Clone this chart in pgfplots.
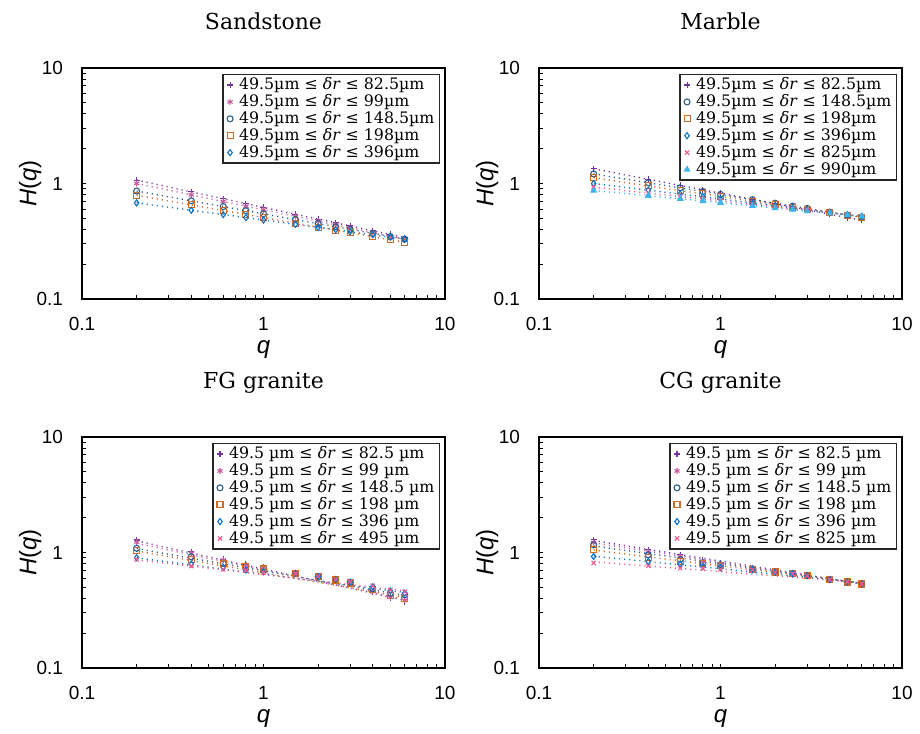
\documentclass[border=0pt]{standalone}
\usepackage{fontspec}
\setmainfont{Liberation Serif}
\setsansfont{Liberation Sans}
\newfontfamily\dvs{DejaVu Serif}
\usepackage{pgfplots}
\pgfplotsset{compat=1.18}

\definecolor{cP}{HTML}{7030A0}
\definecolor{cA}{HTML}{C8609F}
\definecolor{cO}{HTML}{2F5D8A}
\definecolor{cS}{HTML}{D06A27}
\definecolor{cD}{HTML}{0B74C4}
\definecolor{cX}{HTML}{EE5A8E}
\definecolor{cT}{HTML}{3DB4EC}

\newcommand{\dr}{\textit{δr}}

\pgfplotsset{
  every axis/.append style={
    scale only axis, width=181.5pt, height=115.5pt,
    anchor=south west,
    xmin=0.1, xmax=10, ymin=0.1, ymax=10,
    xtick={0.1,1,10}, xticklabels={0.1,1,10},
    ytick={0.1,1,10}, yticklabels={0.1,1,10},
    minor xtick={0.2,0.3,0.4,0.5,0.6,0.7,0.8,0.9,2,3,4,5,6,7,8,9},
    minor ytick={0.2,0.3,0.4,0.5,0.6,0.7,0.8,0.9,2,3,4,5,6,7,8,9},
    tick align=inside, xtick pos=bottom, ytick pos=left,
    major tick length=2.2pt, minor tick length=2.2pt,
    tick style={black, line width=0.5pt},
    axis line style={black, line width=0.7pt},
    ticklabel style={font=\fontsize{9.5}{10}\sffamily},
    xticklabel style={anchor=base, yshift=-15.5pt},
    yticklabel style={anchor=east, xshift=-6pt},
    xlabel={\textit{q}}, ylabel={\textit{H}(\textit{q})},
    label style={font=\fontsize{12}{12}\sffamily},
    xlabel style={at={(axis description cs:0.5,-0.218)}, anchor=center},
    ylabel style={at={(axis description cs:-0.143,0.5)}, anchor=center},
    title style={at={(0.5,1)}, anchor=base, font=\fontsize{11}{11}\dvs},
    legend style={at={(1,1)}, anchor=north east, xshift=-2.5pt, yshift=-3pt,
      draw=black!85, line width=0.6pt, fill=white, inner xsep=2pt, inner ysep=1pt,
      column sep=2.5pt,
      font=\fontsize{7.9}{8}\dvs,
      nodes={inner xsep=0.5pt, inner ysep=0.45pt}},
    legend cell align=left,
  },
  every axis plot/.append style={mark size=1.5pt, line width=0.55pt},
}

\begin{document}
\begin{tikzpicture}
\path (0,0) rectangle (460pt,-364.5pt);

% ---------------- Sandstone ----------------
\begin{loglogaxis}[at={(41pt,-149.5pt)}, title={Sandstone}, title style={yshift=13pt}]
\addplot[forget plot, dotted, line width=0.7pt, color=cP] coordinates {(0.2,1.070) (6,0.340)};
\addplot[forget plot, dotted, line width=0.7pt, color=cA] coordinates {(0.2,1.000) (6,0.330)};
\addplot[forget plot, dotted, line width=0.7pt, color=cO] coordinates {(0.2,0.860) (6,0.330)};
\addplot[forget plot, dotted, line width=0.7pt, color=cS] coordinates {(0.2,0.790) (6,0.310)};
\addplot[forget plot, dotted, line width=0.7pt, color=cD] coordinates {(0.2,0.680) (6,0.330)};
\addplot[only marks, mark=+, color=cP] coordinates {(0.2,1.070) (0.4,0.847) (0.6,0.739) (0.8,0.671) (1,0.622) (1.5,0.543) (2,0.492) (2.5,0.457) (3,0.430) (4,0.390) (5,0.362) (6,0.340)};
\addplot[only marks, mark=asterisk, color=cA] coordinates {(0.2,1.000) (0.4,0.798) (0.6,0.699) (0.8,0.636) (1,0.592) (1.5,0.518) (2,0.472) (2.5,0.439) (3,0.414) (4,0.377) (5,0.350) (6,0.330)};
\addplot[only marks, mark=o, color=cO] coordinates {(0.2,0.860) (0.4,0.708) (0.6,0.631) (0.8,0.582) (1,0.547) (1.5,0.488) (2,0.450) (2.5,0.422) (3,0.401) (4,0.370) (5,0.347) (6,0.330)};
\addplot[only marks, mark=square, color=cS] coordinates {(0.2,0.790) (0.4,0.653) (0.6,0.584) (0.8,0.540) (1,0.508) (1.5,0.454) (2,0.419) (2.5,0.394) (3,0.375) (4,0.347) (5,0.326) (6,0.310)};
\addplot[only marks, mark=diamond, color=cD] coordinates {(0.2,0.680) (0.4,0.587) (0.6,0.538) (0.8,0.507) (1,0.483) (1.5,0.443) (2,0.417) (2.5,0.398) (3,0.382) (4,0.360) (5,0.343) (6,0.330)};
\legend{49.5µm ≤ \dr{} ≤ 82.5µm, 49.5µm ≤ \dr{} ≤ 99µm, 49.5µm ≤ \dr{} ≤ 148.5µm, 49.5µm ≤ \dr{} ≤ 198µm, 49.5µm ≤ \dr{} ≤ 396µm}
\end{loglogaxis}

% ---------------- Marble ----------------
\begin{loglogaxis}[at={(269.5pt,-149.5pt)}, title={Marble}, title style={yshift=13pt}]
\addplot[forget plot, dotted, line width=0.7pt, color=cP] coordinates {(0.2,1.340) (6,0.480)};
\addplot[forget plot, dotted, line width=0.7pt, color=cO] coordinates {(0.2,1.210) (6,0.510)};
\addplot[forget plot, dotted, line width=0.7pt, color=cS] coordinates {(0.2,1.120) (6,0.510)};
\addplot[forget plot, dotted, line width=0.7pt, color=cD] coordinates {(0.2,1.000) (6,0.520)};
\addplot[forget plot, dotted, line width=0.7pt, color=cX] coordinates {(0.2,0.930) (6,0.520)};
\addplot[forget plot, dotted, line width=0.7pt, color=cT] coordinates {(0.2,0.870) (6,0.520)};
\addplot[only marks, mark=+, color=cP] coordinates {(0.2,1.340) (0.4,1.087) (0.6,0.961) (0.8,0.882) (1,0.824) (1.5,0.729) (2,0.668) (2.5,0.625) (3,0.591) (4,0.542) (5,0.507) (6,0.480)};
\addplot[only marks, mark=o, color=cO] coordinates {(0.2,1.210) (0.4,1.016) (0.6,0.917) (0.8,0.852) (1,0.805) (1.5,0.726) (2,0.675) (2.5,0.637) (3,0.608) (4,0.565) (5,0.534) (6,0.510)};
\addplot[only marks, mark=square, color=cS] coordinates {(0.2,1.120) (0.4,0.954) (0.6,0.869) (0.8,0.813) (1,0.772) (1.5,0.703) (2,0.658) (2.5,0.625) (3,0.599) (4,0.560) (5,0.532) (6,0.510)};
\addplot[only marks, mark=diamond, color=cD] coordinates {(0.2,1.000) (0.4,0.875) (0.6,0.810) (0.8,0.766) (1,0.734) (1.5,0.679) (2,0.642) (2.5,0.615) (3,0.594) (4,0.562) (5,0.538) (6,0.520)};
\addplot[only marks, mark=x, color=cX] coordinates {(0.2,0.930) (0.4,0.826) (0.6,0.771) (0.8,0.734) (1,0.706) (1.5,0.659) (2,0.627) (2.5,0.604) (3,0.585) (4,0.557) (5,0.536) (6,0.520)};
\addplot[only marks, mark=triangle*, color=cT] coordinates {(0.2,0.870) (0.4,0.783) (0.6,0.737) (0.8,0.706) (1,0.682) (1.5,0.642) (2,0.614) (2.5,0.594) (3,0.577) (4,0.553) (5,0.535) (6,0.520)};
\legend{49.5µm ≤ \dr{} ≤ 82.5µm, 49.5µm ≤ \dr{} ≤ 148.5µm, 49.5µm ≤ \dr{} ≤ 198µm, 49.5µm ≤ \dr{} ≤ 396µm, 49.5µm ≤ \dr{} ≤ 825µm, 49.5µm ≤ \dr{} ≤ 990µm}
\end{loglogaxis}

% ---------------- FG granite ----------------
\begin{loglogaxis}[at={(41pt,-334pt)}, title={FG granite}, title style={yshift=18.5pt}]
\addplot[forget plot, dotted, line width=0.7pt, color=cP] coordinates {(0.2,1.260) (6,0.385)};
\addplot[forget plot, dotted, line width=0.7pt, color=cA] coordinates {(0.2,1.200) (6,0.395)};
\addplot[forget plot, dotted, line width=0.7pt, color=cO] coordinates {(0.2,1.080) (6,0.425)};
\addplot[forget plot, dotted, line width=0.7pt, color=cS] coordinates {(0.2,1.030) (6,0.410)};
\addplot[forget plot, dotted, line width=0.7pt, color=cD] coordinates {(0.2,0.900) (6,0.450)};
\addplot[forget plot, dotted, line width=0.7pt, color=cX] coordinates {(0.2,0.865) (6,0.465)};
\addplot[only marks, mark=+, color=cP] coordinates {(0.2,1.282) (0.4,1.016) (0.6,0.873) (0.8,0.790) (1,0.755) (1.5,0.665) (2,0.615) (2.5,0.574) (3,0.535) (4,0.459) (5,0.402) (6,0.376)};
\addplot[only marks, mark=asterisk, color=cA] coordinates {(0.2,1.230) (0.4,0.984) (0.6,0.860) (0.8,0.780) (1,0.745) (1.5,0.663) (2,0.616) (2.5,0.576) (3,0.540) (4,0.465) (5,0.410) (6,0.385)};
\addplot[only marks, mark=o, color=cO] coordinates {(0.2,1.087) (0.4,0.920) (0.6,0.807) (0.8,0.765) (1,0.730) (1.5,0.661) (2,0.618) (2.5,0.580) (3,0.549) (4,0.485) (5,0.444) (6,0.430)};
\addplot[only marks, mark=square, color=cS] coordinates {(0.2,1.040) (0.4,0.873) (0.6,0.806) (0.8,0.755) (1,0.720) (1.5,0.660) (2,0.618) (2.5,0.578) (3,0.545) (4,0.475) (5,0.425) (6,0.402)};
\addplot[only marks, mark=diamond, color=cD] coordinates {(0.2,0.900) (0.4,0.796) (0.6,0.740) (0.8,0.706) (1,0.683) (1.5,0.658) (2,0.620) (2.5,0.584) (3,0.555) (4,0.505) (5,0.465) (6,0.445)};
\addplot[only marks, mark=x, color=cX] coordinates {(0.2,0.870) (0.4,0.764) (0.6,0.716) (0.8,0.697) (1,0.670) (1.5,0.657) (2,0.622) (2.5,0.588) (3,0.560) (4,0.514) (5,0.474) (6,0.459)};
\legend{49.5 µm ≤ \dr{} ≤ 82.5 µm, 49.5 µm ≤ \dr{} ≤ 99 µm, 49.5 µm ≤ \dr{} ≤ 148.5 µm, 49.5 µm ≤ \dr{} ≤ 198 µm, 49.5 µm ≤ \dr{} ≤ 396 µm, 49.5 µm ≤ \dr{} ≤ 495 µm}
\end{loglogaxis}

% ---------------- CG granite ----------------
\begin{loglogaxis}[at={(269.5pt,-334pt)}, title={CG granite}, title style={yshift=18.5pt}]
\addplot[forget plot, dotted, line width=0.7pt, color=cP] coordinates {(0.2,1.270) (6,0.535)};
\addplot[forget plot, dotted, line width=0.7pt, color=cA] coordinates {(0.2,1.210) (6,0.537)};
\addplot[forget plot, dotted, line width=0.7pt, color=cO] coordinates {(0.2,1.140) (6,0.540)};
\addplot[forget plot, dotted, line width=0.7pt, color=cS] coordinates {(0.2,1.050) (6,0.542)};
\addplot[forget plot, dotted, line width=0.7pt, color=cD] coordinates {(0.2,0.930) (6,0.546)};
\addplot[forget plot, dotted, line width=0.7pt, color=cX] coordinates {(0.2,0.830) (6,0.550)};
\addplot[only marks, mark=+, color=cP] coordinates {(0.2,1.286) (0.4,1.055) (0.6,0.955) (0.8,0.853) (1,0.810) (1.5,0.735) (2,0.685) (2.5,0.660) (3,0.632) (4,0.582) (5,0.553) (6,0.530)};
\addplot[only marks, mark=asterisk, color=cA] coordinates {(0.2,1.220) (0.4,1.010) (0.6,0.915) (0.8,0.835) (1,0.795) (1.5,0.728) (2,0.682) (2.5,0.658) (3,0.631) (4,0.582) (5,0.555) (6,0.532)};
\addplot[only marks, mark=o, color=cO] coordinates {(0.2,1.165) (0.4,0.955) (0.6,0.870) (0.8,0.815) (1,0.783) (1.5,0.722) (2,0.680) (2.5,0.657) (3,0.631) (4,0.583) (5,0.556) (6,0.534)};
\addplot[only marks, mark=square, color=cS] coordinates {(0.2,1.054) (0.4,0.912) (0.6,0.837) (0.8,0.810) (1,0.770) (1.5,0.718) (2,0.678) (2.5,0.656) (3,0.630) (4,0.582) (5,0.556) (6,0.534)};
\addplot[only marks, mark=diamond, color=cD] coordinates {(0.2,0.924) (0.4,0.837) (0.6,0.790) (0.8,0.760) (1,0.740) (1.5,0.712) (2,0.676) (2.5,0.655) (3,0.630) (4,0.583) (5,0.557) (6,0.535)};
\addplot[only marks, mark=x, color=cX] coordinates {(0.2,0.810) (0.4,0.768) (0.6,0.733) (0.8,0.725) (1,0.715) (1.5,0.705) (2,0.672) (2.5,0.652) (3,0.628) (4,0.582) (5,0.557) (6,0.536)};
\legend{49.5 µm ≤ \dr{} ≤ 82.5 µm, 49.5 µm ≤ \dr{} ≤ 99 µm, 49.5 µm ≤ \dr{} ≤ 148.5 µm, 49.5 µm ≤ \dr{} ≤ 198 µm, 49.5 µm ≤ \dr{} ≤ 396 µm, 49.5 µm ≤ \dr{} ≤ 825 µm}
\end{loglogaxis}
\end{tikzpicture}
\end{document}
